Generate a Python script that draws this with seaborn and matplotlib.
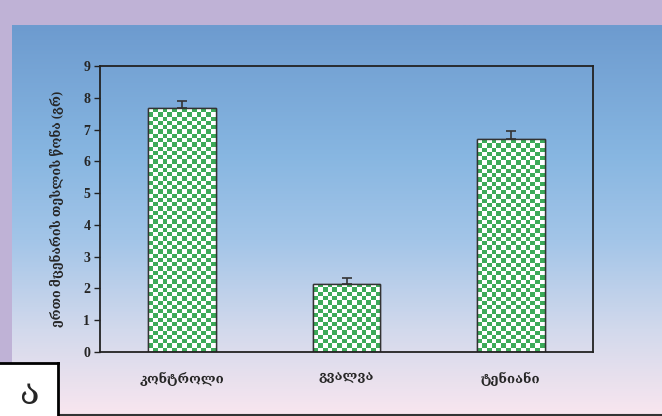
import numpy as np
import pandas as pd
import matplotlib
matplotlib.use("Agg")
import matplotlib.pyplot as plt
import seaborn as sns
from matplotlib.colors import LinearSegmentedColormap
from matplotlib.patches import Rectangle

categories = ["კონტროლი", "გვალვა", "ტენიანი"]
values = [7.67, 2.14, 6.69]
errors = [0.22, 0.19, 0.26]
y_label = "ერთი მცენარის თესლის წონა (გრ)"
y_ticks = list(range(0, 10))
panel_letter = "ა"

df = pd.DataFrame({"group": categories, "value": values})

sns.set_theme(style="white")
plt.rcParams["font.family"] = ["Liberation Serif", "DejaVu Serif", "DejaVu Sans"]

W, H = 662, 416
fig = plt.figure(figsize=(W / 100, H / 100), dpi=100)
fig.patch.set_facecolor("#bfb2d6")

# background gradient panel
bg = fig.add_axes([12 / W, 0, 1 - 12 / W, (416 - 25) / H])
bg.set_axis_off()
stops = [(0.0, "#6d9bcf"), (0.33, "#87b6e1"), (0.55, "#a3c5e8"),
         (0.78, "#d2d9ec"), (1.0, "#f9e6ef")]
cmap = LinearSegmentedColormap.from_list("bgc", stops)
grad = np.linspace(0, 1, 256).reshape(-1, 1)
bg.imshow(grad, aspect="auto", cmap=cmap, extent=[0, 1, 0, 1], origin="upper")
bg.set_xlim(0, 1)
bg.set_ylim(0, 1)
bg.set_zorder(0)

# bottom dark line
fig.add_artist(plt.Line2D([0, 1], [1 / H, 1 / H], color="#333333", lw=1.5,
                          transform=fig.transFigure))

ax = fig.add_axes([100 / W, (416 - 352) / H, (593 - 100) / W, (352 - 66) / H])
ax.set_zorder(2)
ax.patch.set_alpha(0)

sns.barplot(data=df, x="group", y="value", ax=ax, color="white",
            width=0.41, edgecolor="#333333", linewidth=1.0, errorbar=None)

# checkered fill clipped to each bar
n = 14
checker = (np.add.outer(np.arange(60), np.arange(n)) % 2).astype(float)
ccmap = LinearSegmentedColormap.from_list("chk", ["#ffffff", "#3caa58"])
for bar in ax.patches:
    x0, w, h = bar.get_x(), bar.get_width(), bar.get_height()
    rows = int(round(h / 0.135))
    im = ax.imshow(checker[:max(rows, 1)], cmap=ccmap, interpolation="nearest",
                   extent=[x0, x0 + w, 0, h], aspect="auto", zorder=bar.get_zorder() + 0.1)
    im.set_clip_path(bar)
    outline = Rectangle((x0, 0), w, h, fill=False, edgecolor="#333333", lw=1.0,
                        zorder=bar.get_zorder() + 0.2)
    ax.add_patch(outline)

xs = np.arange(len(categories))
ax.errorbar(xs, values, yerr=[np.zeros(len(errors)), errors], fmt="none",
            ecolor="#333333", elinewidth=1.2, capsize=3.5, capthick=1.2, zorder=5)

ax.set_xlim(-0.5, 2.5)
ax.set_ylim(0, 9)
ax.set_yticks(y_ticks)
ax.set_yticklabels([str(t) for t in y_ticks], fontsize=10, fontweight="bold")
ax.set_xticks(xs)
ax.set_xticklabels(categories, fontsize=9.5, fontweight="bold")
ax.set_xticks([-0.5, 0.5, 1.5, 2.5], minor=True)
ax.tick_params(axis="x", which="major", length=0, pad=14)
ax.tick_params(axis="x", which="minor", length=4, width=1, color="#222222", direction="out")
ax.tick_params(axis="y", length=4, width=1, color="#222222", direction="out", pad=3, left=True)
ax.set_xlabel("")
ax.set_ylabel(y_label, fontsize=9, fontweight="bold", labelpad=14)
for s in ax.spines.values():
    s.set_visible(True)
    s.set_color("#222222")
    s.set_linewidth(1.3)

# panel letter box
box = fig.add_axes([0, 0, 58 / W, 53 / H])
box.set_zorder(3)
box.set_xticks([])
box.set_yticks([])
box.set_facecolor("white")
for k, s in box.spines.items():
    s.set_color("black")
    s.set_linewidth(2 if k in ("top", "right") else 0)
box.text(0.5, 0.42, panel_letter, ha="center", va="center", fontsize=26,
         family=["DejaVu Serif", "DejaVu Sans"], transform=box.transAxes)

fig.savefig("out.png", dpi=100)
